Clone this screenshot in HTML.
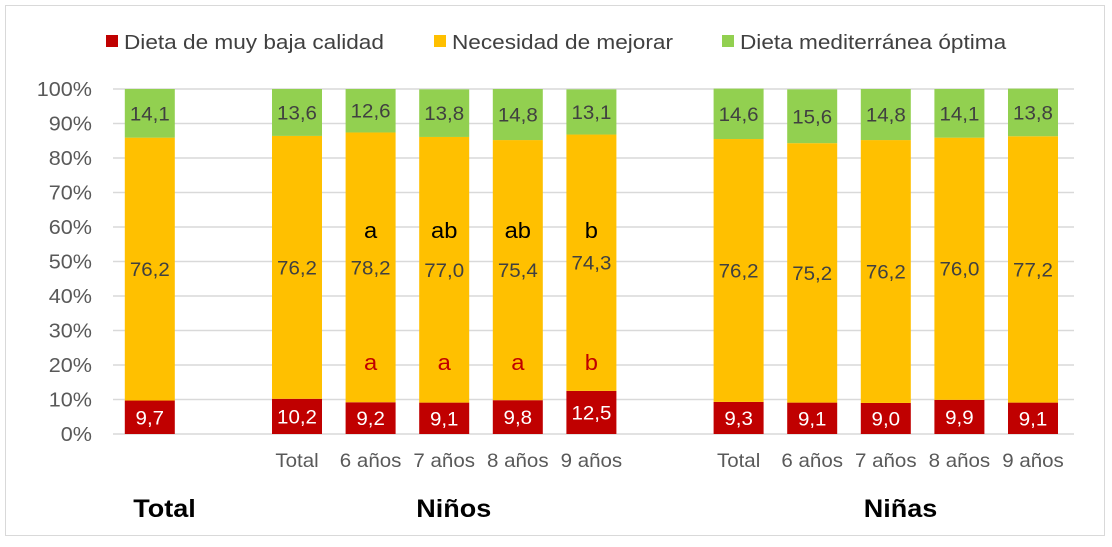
<!DOCTYPE html>
<html><head><meta charset="utf-8"><style>
body{margin:0;background:#fff;font-family:"Liberation Sans",sans-serif}
</style></head><body>
<svg id="c" width="1112" height="542" xmlns="http://www.w3.org/2000/svg">
<rect x="5.5" y="5.5" width="1099" height="530" fill="#fff" stroke="#d9d9d9"/>
<g font-size="20" fill="#404040">
<g><rect x="106" y="35" width="12" height="12" fill="#c00000"/><text transform="translate(124,49) scale(1.13,1)">Dieta de muy baja calidad</text></g>
<g><rect x="434" y="35" width="12" height="12" fill="#ffc000"/><text transform="translate(452,49) scale(1.13,1)">Necesidad de mejorar</text></g>
<g><rect x="722" y="35" width="12" height="12" fill="#92d050"/><text transform="translate(740,49) scale(1.13,1)">Dieta mediterránea óptima</text></g>
</g>
<g id="grid"></g><g id="bars"></g><g id="labels"></g>
</svg>
<script>
const categories=["Total","Total","6 años","7 años","8 años","9 años","Total","6 años","7 años","8 años","9 años"];
const slots=[0,2,3,4,5,6,8,9,10,11,12];
const lowVals=[9.7,10.2,9.2,9.1,9.8,12.5,9.3,9.1,9.0,9.9,9.1];
const midVals=[76.2,76.2,78.2,77.0,75.4,74.3,76.2,75.2,76.2,76.0,77.2];
const highVals=[14.1,13.6,12.6,13.8,14.8,13.1,14.6,15.6,14.8,14.1,13.8];
const blackLetters=["","","a","ab","ab","b","","","","",""];
const redLetters=["","","a","a","a","b","","","","",""];
const yTicks=[0,10,20,30,40,50,60,70,80,90,100];
const groups=["Total","Niños","Niñas"];
const groupCenters=[0.2,4.13,10.2];
const NS="http://www.w3.org/2000/svg";
const x0=113,slotW=73.6,bw=50;
const y=v=>434-v*3.45;
const xs=s=>x0+slotW*(s+0.5);
function el(t,a,p,txt){const e=document.createElementNS(NS,t);for(const k in a)e.setAttribute(k,a[k]);if(txt!==undefined)e.textContent=txt;p.appendChild(e);return e;}
function tx(x,yy,a,p,txt,sx){a.transform='translate('+x+','+yy+') scale('+(sx||1.1)+',1)';return el('text',a,p,txt);}
const G=document.getElementById('grid'),B=document.getElementById('bars'),L=document.getElementById('labels');
yTicks.forEach(t=>{
 const l=el('line',{x1:x0,x2:1074,y1:y(t),y2:y(t),stroke:'#d9d9d9','stroke-width':1.5},G);
 
 
 const k=tx(92,y(t)+7,{'text-anchor':'end','font-size':20,fill:'#595959'},G,t+'%',1.08);
 
 
});
const fmt=v=>v.toFixed(1).replace('.',',');
categories.forEach((c,i)=>{
 const cx=xs(slots[i]);
 const segs=[[0,lowVals[i],'#c00000','#fff','low'],[lowVals[i],lowVals[i]+midVals[i],'#ffc000','#404040','mid'],[lowVals[i]+midVals[i],lowVals[i]+midVals[i]+highVals[i],'#92d050','#404040','high']];
 segs.forEach(s=>{
  const r=el('rect',{x:cx-bw/2,y:y(s[1]),width:bw,height:y(s[0])-y(s[1]),fill:s[2]},B);
  
  
  const t=tx(cx,(y(s[0])+y(s[1]))/2+7,{'text-anchor':'middle','font-size':19,fill:s[3]},L,fmt(s[1]-s[0]),1.08);
  
  
 });
 if(i>0){const t=tx(cx,467,{'text-anchor':'middle','font-size':19,fill:'#595959'},L,c,1.08);
 
 }
 if(blackLetters[i]){const t=tx(cx,238,{'text-anchor':'middle','font-size':22,fill:'#000'},L,blackLetters[i],1.08);
 
 }
 if(redLetters[i]){const t=tx(cx,370,{'text-anchor':'middle','font-size':22,fill:'#c00000'},L,redLetters[i],1.08);
 
 }
});
groups.forEach((g,i)=>{
 const t=tx(xs(groupCenters[i]),517,{'text-anchor':'middle','font-size':25,'font-weight':'bold',fill:'#000'},L,g,1.08);
 
 
});
</script>
</body></html>
